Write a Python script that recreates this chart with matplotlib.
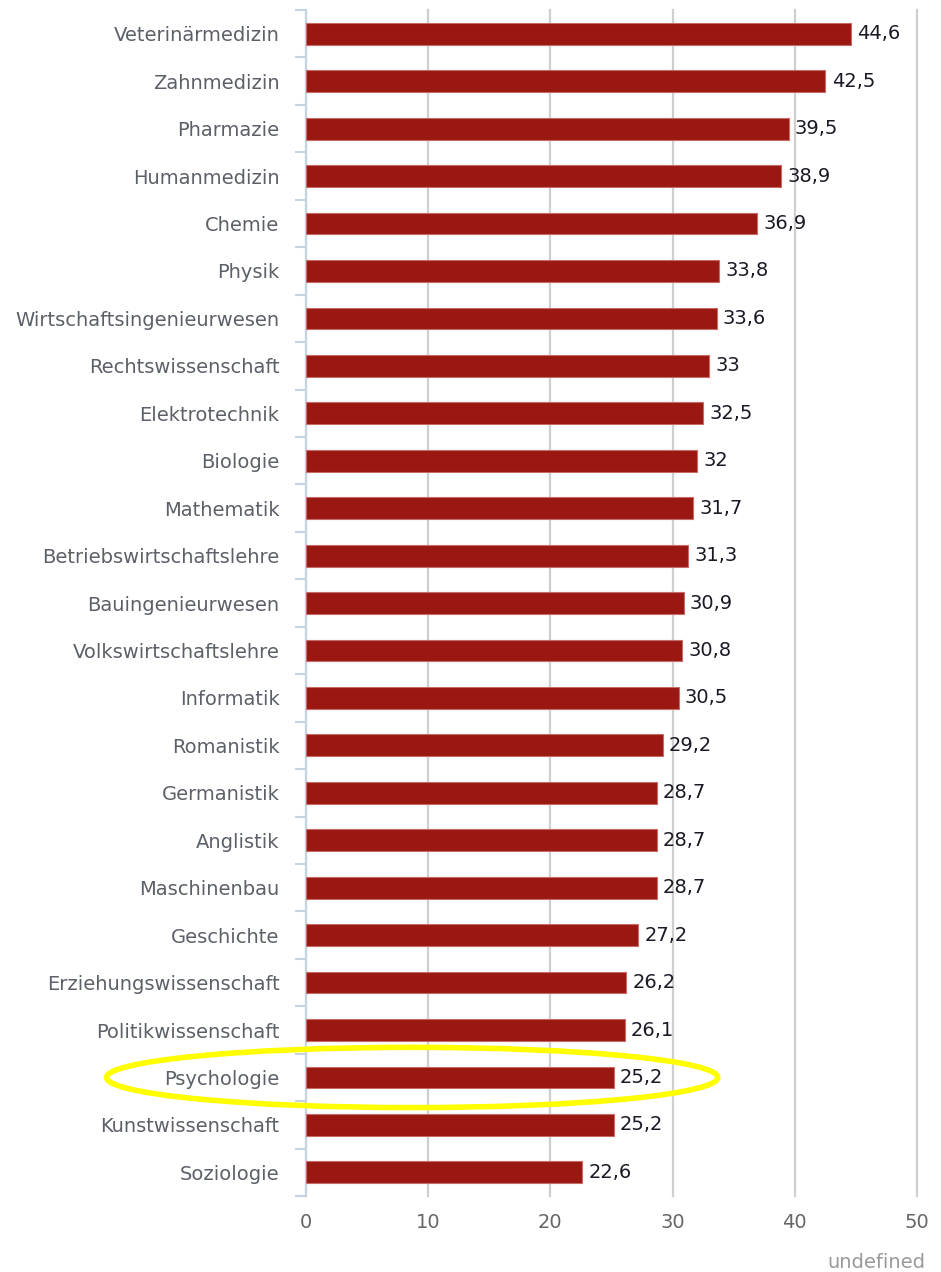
import numpy as np
import matplotlib.pyplot as plt
from matplotlib.patches import Ellipse

categories = [
    "Veterinärmedizin", "Zahnmedizin", "Pharmazie", "Humanmedizin", "Chemie",
    "Physik", "Wirtschaftsingenieurwesen", "Rechtswissenschaft", "Elektrotechnik",
    "Biologie", "Mathematik", "Betriebswirtschaftslehre", "Bauingenieurwesen",
    "Volkswirtschaftslehre", "Informatik", "Romanistik", "Germanistik", "Anglistik",
    "Maschinenbau", "Geschichte", "Erziehungswissenschaft", "Politikwissenschaft",
    "Psychologie", "Kunstwissenschaft", "Soziologie",
]
values = [
    44.6, 42.5, 39.5, 38.9, 36.9, 33.8, 33.6, 33.0, 32.5, 32.0, 31.7, 31.3, 30.9,
    30.8, 30.5, 29.2, 28.7, 28.7, 28.7, 27.2, 26.2, 26.1, 25.2, 25.2, 22.6,
]
x_ticks = [0, 10, 20, 30, 40, 50]
highlight = "Psychologie"


def fmt(v):
    s = f"{v:.1f}".replace(".", ",")
    return s[:-2] if s.endswith(",0") else s


def main():
    n = len(categories)
    y = np.arange(n)

    fig = plt.figure(figsize=(9.41, 12.72), dpi=100)
    ax = fig.add_axes([0.325, 0.0597, 0.6495, 0.9324])

    ax.barh(y, values, height=0.46, color="#9b1712", edgecolor="#c86a66",
            linewidth=0.8, zorder=3)
    for yi, v in zip(y, values):
        ax.annotate(fmt(v), (v, yi), xytext=(4.5, 0), textcoords="offset points",
                    va="center", ha="left", fontsize=14, color="#1a1a26", zorder=4)

    ax.set_xlim(0, 50)
    ax.set_ylim(n - 0.5, -0.5)
    ax.set_xticks(x_ticks)
    ax.set_xticklabels([str(t) for t in x_ticks])
    ax.set_yticks(y)
    ax.set_yticklabels(categories)
    ax.set_yticks(np.arange(-0.5, n + 0.5), minor=True)

    ax.grid(axis="x", color="#cfcfcf", linewidth=1.6, zorder=0)
    for gl in ax.get_xgridlines():
        gl.set_clip_on(False)
    ax.set_axisbelow(True)

    for side in ("top", "right", "bottom"):
        ax.spines[side].set_visible(False)
    ax.spines["left"].set_color("#c5d3e3")
    ax.spines["left"].set_linewidth(1.5)

    ax.tick_params(axis="y", which="major", length=0, pad=19, labelsize=14,
                   labelcolor="#5c6068")
    ax.tick_params(axis="y", which="minor", length=8, width=1.5, color="#c5d3e3")
    ax.tick_params(axis="x", length=0, pad=12, labelsize=14, labelcolor="#666666")

    # yellow highlight ring around one category
    hy = categories.index(highlight)
    ring = Ellipse((8.7, hy), width=50.0, height=1.27, fill=False,
                   edgecolor="#ffff00", linewidth=4, clip_on=False, zorder=5)
    ax.add_patch(ring)

    fig.text(0.983, 0.0, "undefined", ha="right", va="bottom", fontsize=14,
             color="#999999")

    fig.savefig("out.png", dpi=100)


if __name__ == "__main__":
    main()
